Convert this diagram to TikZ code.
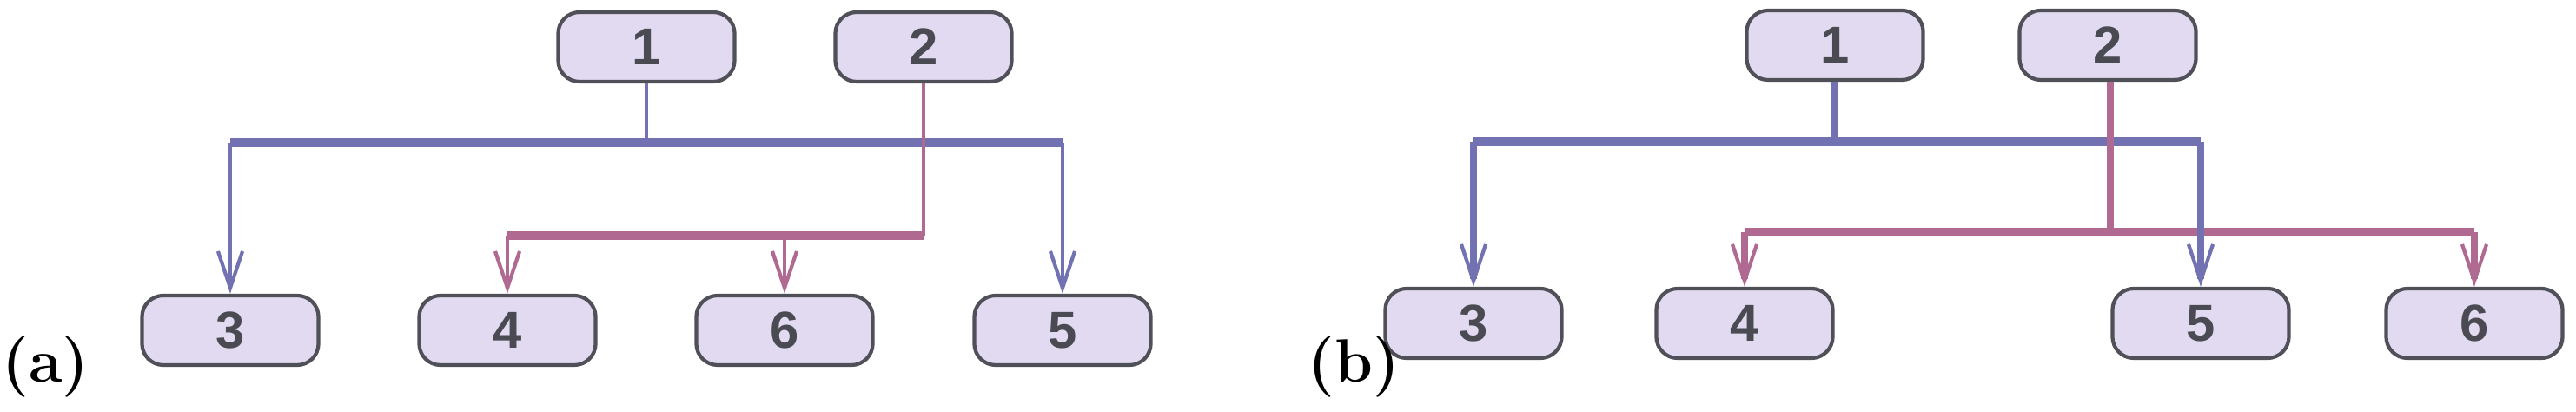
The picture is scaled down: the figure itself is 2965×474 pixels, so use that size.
\documentclass[tikz,border=0pt]{standalone}
\usepackage{fontspec}
\newfontfamily\nodefont{Liberation Sans}
\usetikzlibrary{arrows.meta}
\definecolor{bl}{HTML}{7272B2}
\definecolor{pk}{HTML}{B06A92}
\definecolor{nf}{HTML}{E2DAF0}
\definecolor{nd}{HTML}{505058}
\definecolor{tx}{HTML}{4A4A52}
\tikzset{
  box/.style={draw=nd,line width=1.2pt,fill=nf,rounded corners=7pt,minimum width=2.03cm,minimum height=0.8cm,inner sep=0pt,font=\nodefont\bfseries\fontsize{17}{17}\selectfont,text=tx},
  bar/.style={line width=2.8pt},
  vl/.style={line width=1.3pt},
  vlb/.style={line width=2.3pt},
  arr/.style={-{Straight Barb[length=12pt,width=8pt,line width=1.2pt]}},
  lab/.style={font=\bfseries\fontsize{20}{20}\selectfont,inner sep=0pt}
}
\begin{document}
\begin{tikzpicture}[x=0.01cm,y=-0.01cm]
\useasboundingbox (0,0) rectangle (2965,474);
% panel a
\node[box] (a1) at (744,54) {1};
\node[box] (a2) at (1063,54) {2};
\node[box] (a3) at (265,380) {3};
\node[box] (a4) at (584,380) {4};
\node[box] (a6) at (903,380) {6};
\node[box] (a5) at (1223,380) {5};
\coordinate (ab1) at (744,164);
\coordinate (ab2) at (1063,271);
\draw[bl,bar] (a3.north |- ab1) -- (a5.north |- ab1);
\draw[bl,vl] (a1.south) -- (ab1);
\draw[bl,vl,arr] (a3.north |- ab1) -- (a3.north);
\draw[bl,vl,arr] (a5.north |- ab1) -- (a5.north);
\draw[pk,vl] (a2.south) -- (ab2);
\draw[pk,bar] (a4.north |- ab2) -- (ab2);
\draw[pk,vl,arr] (a4.north |- ab2) -- (a4.north);
\draw[pk,vl,arr] (a6.north |- ab2) -- (a6.north);
\node[lab,anchor=base west] (la) at (2,440) {(a)};
% panel b
\node[box] (b1) at (2112,52) {1};
\node[box] (b2) at (2426,52) {2};
\node[box] (b3) at (1696,372) {3};
\node[box] (b4) at (2008,372) {4};
\node[box] (b5) at (2533,372) {5};
\node[box] (b6) at (2848,372) {6};
\coordinate (bb1) at (2112,163);
\coordinate (bb2) at (2429,267);
\draw[bl,bar] (b3.north |- bb1) -- (b5.north |- bb1);
\draw[bl,vlb] (b1.south) -- (bb1);
\draw[pk,vlb] (b2.south -| bb2) -- (bb2);
\draw[pk,bar] (b4.north |- bb2) -- (b6.north |- bb2);
\draw[bl,vlb,arr] (b3.north |- bb1) -- (b3.north);
\draw[bl,vlb,arr] (b5.north |- bb1) -- (b5.north);
\draw[pk,vlb,arr] (b4.north |- bb2) -- (b4.north);
\draw[pk,vlb,arr] (b6.north |- bb2) -- (b6.north);
\node[lab,anchor=base west] (lb) at (1505,440) {(b)};
\end{tikzpicture}
\end{document}
